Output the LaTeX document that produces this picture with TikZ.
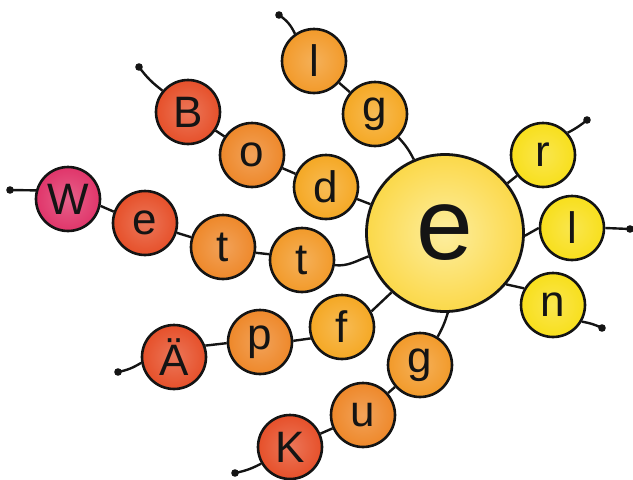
\documentclass[tikz,border=0pt]{standalone}
\usepackage{fontspec}
\setmainfont{Liberation Sans}
\definecolor{pinkred}{HTML}{E0356A}
\definecolor{redorange}{HTML}{E6502A}
\definecolor{orng}{HTML}{EE882A}
\definecolor{amber}{HTML}{F5A824}
\definecolor{amberor}{HTML}{F29A2A}
\definecolor{yell}{HTML}{F8DF1C}
\definecolor{bigyell}{HTML}{FBE050}
\definecolor{ink}{HTML}{141414}
\tikzset{
  bead/.style={circle, draw=ink, line width=2.6pt, minimum size=64pt, inner sep=0pt,
    shading=radial, inner color=#1!78!white, outer color=#1,
    font=\fontsize{44}{44}\selectfont, text=ink},
  bigbead/.style={circle, draw=ink, line width=2.8pt, minimum size=157pt, inner sep=0pt,
    shading=radial, inner color=bigyell!55!white, outer color=bigyell!92!orange,
    font=\fontsize{102}{102}\selectfont, text=ink},
  link/.style={draw=ink, line width=2.4pt},
  tip/.style={fill=ink}
}
\begin{document}
\begin{tikzpicture}[x=1pt,y=-1pt]
\useasboundingbox (0,0) rectangle (633,480);
% central bead
\node[bigbead] (E) at (445,233) {e};
% chain W e t t
\node[bead=pinkred] (W) at (68,199) {W};
\node[bead=redorange] (e1) at (145,223) {e};
\node[bead=orng] (t1) at (223,247) {t};
\node[bead=amberor] (t2) at (302,260) {t};
% chain B o d
\node[bead=redorange] (B) at (188,112) {B};
\node[bead=orng] (o) at (252,155) {o};
\node[bead=amber] (d) at (326,187) {d};
% chain l g
\node[bead=amberor] (l1) at (314,61) {l};
\node[bead=amber] (g1) at (375,114) {g};
% chain Ä p f
\node[bead=redorange] (Ae) at (174,357) {Ä};
\node[bead=orng] (p) at (260,342) {p};
\node[bead=amber] (f) at (342,327) {f};
% chain K u g
\node[bead=redorange] (K) at (290,447) {K};
\node[bead=orng] (u) at (363,415) {u};
\node[bead=amberor] (g2) at (420,365) {g};
% right beads
\node[bead=yell] (r) at (543,155) {r};
\node[bead=yell] (l2) at (572,228) {l};
\node[bead=yell] (n) at (553,305) {n};
% tail ends
\coordinate (Wt) at (10,190);
\coordinate (Bt) at (139,67);
\coordinate (lt) at (279,15);
\coordinate (At) at (118,372);
\coordinate (Kt) at (235,473);
\coordinate (rt) at (587,120);
\coordinate (l2t) at (630,229);
\coordinate (nt) at (602,328);
% links
\draw[link] (W.-12) -- (e1.160);
\draw[link] (e1) -- (t1);
\draw[link] (t1.-10) -- (t2.170);
\draw[link] (t2.-9) to[out=-5,in=200] (E.197);
\draw[link] (B) -- (o);
\draw[link] (o) -- (d);
\draw[link] (d) -- (E);
\draw[link] (l1) -- (g1);
\draw[link] (g1.-45) to[bend left=8] (E.113);
\draw[link] (Ae.20) -- (p.182);
\draw[link] (p.2) -- (f.200);
\draw[link] (f.28) -- (E.228);
\draw[link] (K) -- (u);
\draw[link] (u) -- (g2);
\draw[link] (g2.58) to[bend right=6] (E.272);
\draw[link] (E) -- (r);
\draw[link] (E.-2) -- (l2.180);
\draw[link] (E.-40) -- (n.150);
% tails
\draw[link] (W.165) -- (Wt);
\draw[link] (B.140) to[bend left=8] (Bt);
\draw[link] (l1.125) to[bend right=15] (lt);
\draw[link] (Ae.190) to[bend left=10] (At);
\draw[link] (K.210) to[bend left=8] (Kt);
\draw[link] (r.42) to[bend right=6] (rt);
\draw[link] (l2.0) -- (l2t);
\draw[link] (n.-30) to[bend left=8] (nt);
\foreach \c in {Wt,Bt,lt,At,Kt,rt,l2t,nt} \fill[tip] (\c) circle (3.8);
\end{tikzpicture}
\end{document}
